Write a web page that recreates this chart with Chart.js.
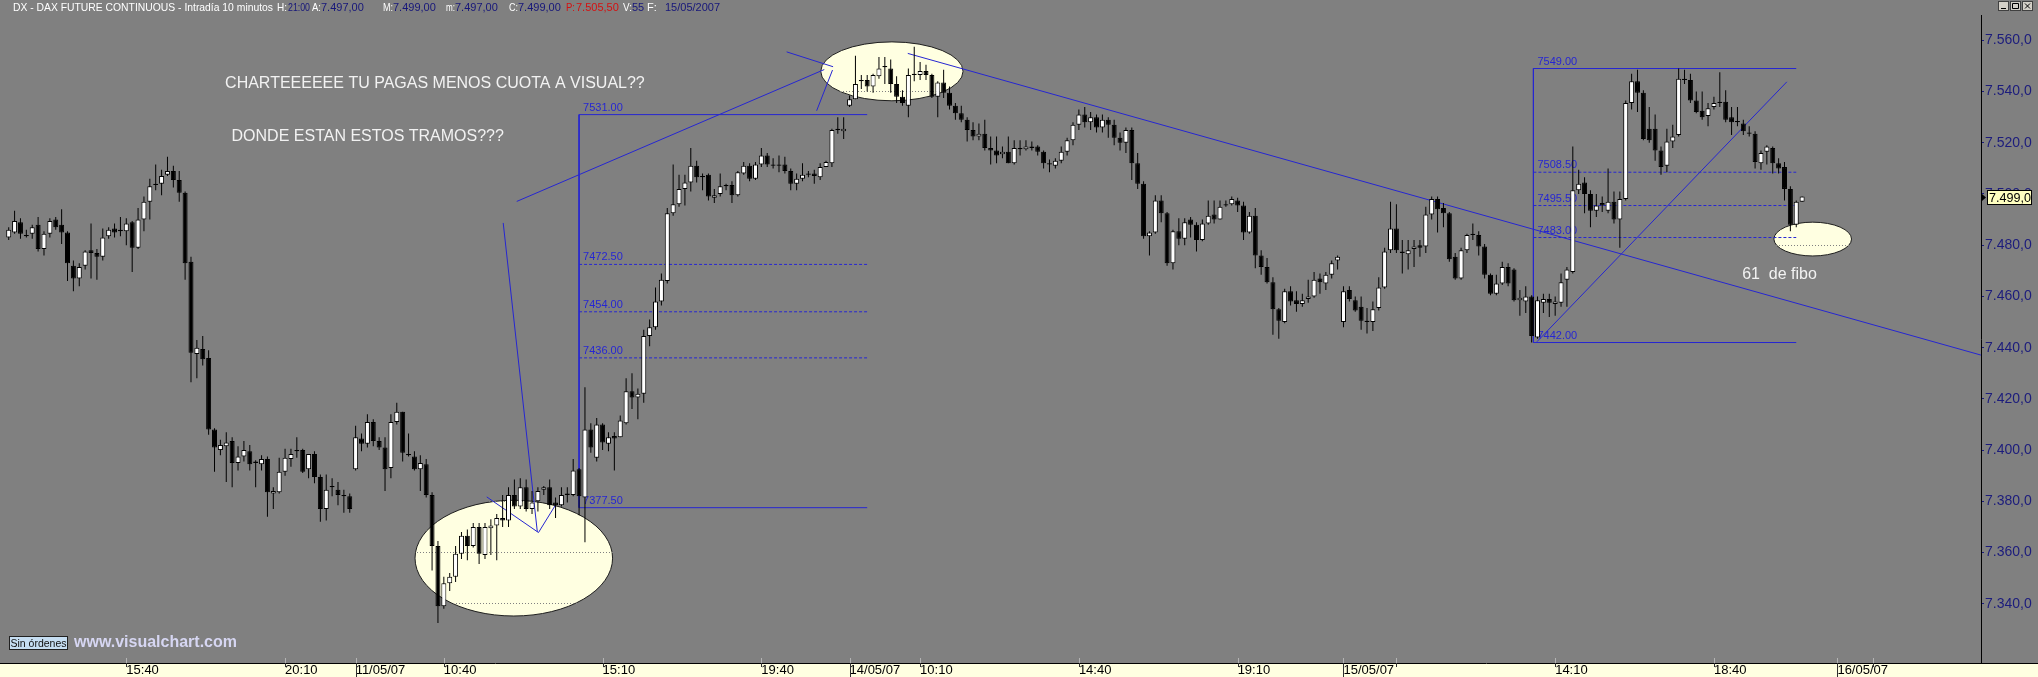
<!DOCTYPE html>
<html>
<head>
<meta charset="utf-8">
<script src="https://cdn.jsdelivr.net/npm/chart.js@4.4.0/dist/chart.umd.min.js"></script>
<style>
html,body{margin:0;padding:0;background:#808080;overflow:hidden;}
#wrap{position:relative;width:2038px;height:677px;}
</style>
</head>
<body>
<div id="wrap"><canvas id="mycanvas"></canvas></div>
<script>
// DAX future, 10 minute bars, 10/05/07 12:20 .. 15/05/07 21:10 (index = bar number)
var opens = [
7483,7485,7489,7484,7484.5,7488,7478.5,7484.5,7490,7488,
7485,7472,7467,7472,7478,7477,7475.5,7483.5,7486.5,7485.5,
7485.5,7489,7479,7490,7497,7504,7504,7507.5,7509,7505.5,
7500.5,7473.5,7437.5,7439.5,7436,7408,7400,7401.5,7403.5,7395,
7397.5,7399.5,7395.5,7394.5,7396.5,7383,7383.5,7391.5,7396.5,7400,
7400,7392.5,7398.5,7389.5,7377,7385.5,7384.5,7382.5,7382,7392.5,
7404.5,7402.5,7411,7403.5,7401,7393,7411,7415,7398.5,7397.5,
7392.5,7394.5,7382.5,7362.5,7339,7348,7350.5,7359.5,7366.5,7362.5,
7370,7359,7369.5,7370.5,7373.5,7372.5,7382.5,7378,7385.5,7377,
7380,7384.5,7385.5,7379.5,7378.5,7382.5,7382.5,7392.5,7381.5,7408,
7397,7410,7402.5,7405.5,7405,7410.5,7423,7420.5,7422,7444.5,
7448,7458,7466,7492.5,7496,7502,7504.5,7511,7506.5,7507.5,
7498.5,7500,7503.5,7503.5,7499.5,7508,7511,7506,7511.5,7515,
7511.5,7511.5,7511.5,7509,7504,7506,7507.5,7508,7506.5,7510.5,
7512,7525.5,7524.5,7534.5,7537,7544.5,7544.5,7542,7546,7549.5,
7549,7543,7538,7534.5,7546.5,7546.5,7548,7546.5,7538,7543.5,
7539.5,7534.5,7531.5,7529,7525,7522.5,7523.5,7518,7517,7515.5,
7516.5,7512,7518,7517.5,7518.5,7518.5,7516.5,7512,7511,7513,
7516.5,7521,7527,7531,7528,7530,7526,7529,7527,7522,
7520,7525,7512,7504,7483.5,7485,7497.5,7492.5,7473,7485.5,
7482.5,7490,7488,7482,7488.5,7492,7490,7495.5,7496,7497.5,
7495.5,7485,7491.5,7476,7471.5,7465.5,7455,7450,7462,7458.5,
7457,7459,7460,7467,7465,7468.5,7474,7450,7462.5,7458.5,
7456,7450.5,7450,7455.5,7463.5,7478,7486.5,7477.5,7476.5,7478.5,
7480,7479.5,7492,7498,7494.5,7492.5,7475.5,7467,7478,7484.5,
7484,7479.5,7468.5,7461,7465,7471.5,7470.5,7458.5,7458,7460,
7444,7457.5,7459,7457,7457.5,7466.5,7469.5,7501.5,7504.5,7500,
7493.5,7496.5,7493.5,7497,7490,7498,7535.5,7544,7539.5,7525.5,
7525.5,7517,7511,7520.5,7523,7545,7544.5,7536.5,7532.5,7530.5,
7534,7536,7536,7530,7528.5,7527.5,7524,7523.5,7512,7516.5,
7518,7512,7510.5,7502,7488,7497
];
var highs = [
7487,7493.5,7490.5,7486,7488,7491,7485.5,7490.5,7491,7494,
7485.5,7474,7473,7478,7488.5,7478.5,7486.5,7487,7488.5,7491,
7490.5,7489.5,7494.5,7499,7506,7511.5,7509.5,7514.5,7511,7509,
7501,7475.5,7443,7444.5,7439,7408.5,7404,7407,7405,7401.5,
7403.5,7402,7396,7398,7397.5,7385.5,7397,7400.5,7400.5,7405,
7400.5,7398.5,7399.5,7390.5,7390.5,7389,7387.5,7384.5,7383,7409.5,
7406.5,7414,7412,7405,7405,7414,7418.5,7415,7406.5,7399.5,
7398,7396.5,7383.5,7364.5,7350.5,7352,7362.5,7368,7369,7371.5,
7371.5,7371.5,7373,7375,7382.5,7385.5,7388.5,7389,7388.5,7384,
7385.5,7386,7388.5,7381.5,7385.5,7385.5,7396.5,7393,7424.5,7410.5,
7412.5,7410.5,7407,7407,7413.5,7428,7430,7424,7447,7451,
7463.5,7469,7494.5,7511.5,7507.5,7507.5,7518,7513,7508,7508,
7502,7508,7504,7505,7509,7512.5,7512,7512.5,7518,7516,
7514,7515,7514.5,7510,7508,7512,7509,7509.5,7512,7513,
7525.5,7530,7530,7538.5,7554,7546.5,7546.5,7547,7553.5,7553.5,
7552.5,7546,7540.5,7549,7557.5,7551.5,7550.5,7547,7544,7548.5,
7542,7535.5,7534.5,7530,7528,7527.5,7529,7522.5,7522.5,7518.5,
7522.5,7521,7521,7521,7520.5,7519,7517,7513.5,7514,7518.5,
7522,7528,7533,7534,7532,7531,7531,7530,7529,7524,
7526,7526,7516,7505,7485.5,7499.5,7499.5,7493,7486,7490.5,
7490.5,7491,7489,7490,7497.5,7497.5,7497.5,7497.5,7499,7498.5,
7497,7493,7494.5,7478,7475,7467.5,7455.5,7463,7464,7462,
7461,7466.5,7469.5,7469,7469.5,7474,7476,7464,7464,7460,
7460,7455.5,7458,7467.5,7479,7497,7496,7482,7482,7482,
7482,7495,7499,7499,7496.5,7493,7477,7479,7484.5,7488.5,
7485.5,7480.5,7469,7468.5,7473.5,7473,7471,7462.5,7464,7460.5,
7460,7461,7461,7460,7469,7471.5,7518.5,7509.5,7506.5,7501.5,
7500,7499,7510,7501,7501,7536.5,7547,7548.5,7540.5,7534,
7531,7518.5,7525.5,7527,7549,7548.5,7547,7540,7540,7535.5,
7538,7547.5,7540.5,7534,7534,7529,7526.5,7524.5,7517,7519,
7518.5,7514,7512.5,7503,7497.5,7499
];
var lows = [
7482,7484.5,7482.5,7483,7482.5,7477.5,7476,7483,7486,7480.5,
7466,7462,7464,7470.5,7467,7466.5,7474,7482.5,7483,7483.5,
7480,7469.5,7478.5,7485.5,7490,7501.5,7499.5,7507,7502.5,7497,
7466.5,7426.5,7428,7433,7406,7391.5,7398,7387.5,7385.5,7392,
7395.5,7392,7385.5,7392,7374,7377,7383,7390,7393.5,7397,
7391,7389,7387,7372,7372.5,7382,7378.5,7375.5,7375.5,7392,
7399.5,7401,7401.5,7400,7384,7389,7410,7395.5,7397.5,7392,
7384,7381.5,7353,7332.5,7338,7345,7348.5,7357.5,7357,7362,
7355.5,7357.5,7359,7357,7370,7370,7377,7377,7376,7375,
7376,7382.5,7377,7373.5,7378,7379.5,7382,7374.5,7364,7399,
7395.5,7400,7399.5,7392,7405,7410,7416,7412,7418.5,7440.5,
7447,7456.5,7465,7491.5,7495,7495.5,7501,7504.5,7501.5,7497.5,
7496.5,7499,7501.5,7496.5,7499,7507.5,7505,7505.5,7510.5,7510.5,
7510,7508.5,7508,7501.5,7501.5,7505,7506.5,7504,7505.5,7510.5,
7510.5,7523.5,7521.5,7534,7537,7541,7540,7539.5,7545,7543,
7539.5,7535.5,7534.5,7530,7544,7544.5,7544.5,7537.5,7530,7537.5,
7533,7529,7528,7520.5,7521,7521,7517,7511.5,7512,7514,
7512,7511.5,7515,7517,7517,7515,7510,7508.5,7510,7512,
7515,7519,7525,7526,7525,7524,7524,7522,7519,7517,
7516,7505.5,7502,7482.5,7476,7484.5,7489,7472,7470.5,7480,
7480,7483,7477.5,7481.5,7488,7488.5,7490,7495,7495.5,7493,
7482,7484.5,7471,7468.5,7465,7445,7443.5,7449.5,7456.5,7454,
7456,7457.5,7459.5,7461,7462.5,7467,7470.5,7448,7458,7454,
7447,7445.5,7446.5,7454.5,7463,7477,7477,7469,7470.5,7471.5,
7475.5,7477,7490,7485,7487,7473.5,7466.5,7466.5,7477,7482,
7476,7467,7460.5,7460.5,7464.5,7464,7458,7452.5,7453.5,7442,
7443.5,7453.5,7452,7452.5,7456,7456,7469,7500,7492.5,7487,
7491,7493,7492.5,7488.5,7479,7497.5,7533,7532,7521,7520,
7513,7507.5,7508.5,7518,7522.5,7543,7535.5,7531.5,7529,7526.5,
7533,7534,7528,7523,7526.5,7523,7522.5,7510,7509.5,7511.5,
7508,7508,7497.5,7485.5,7487,7497
];
var closes = [
7486,7489.5,7484.5,7483.5,7487,7478.5,7484.5,7489.5,7487,7485,
7473,7467,7471.5,7477.5,7477,7475.5,7483,7486,7485,7486,
7488.5,7479,7490,7497,7503,7503.5,7507,7509,7505.5,7500.5,
7473,7438,7440,7435.5,7408,7401,7402,7403,7395,7397.5,
7400,7394.5,7395,7396.5,7383.5,7384,7391.5,7397,7398.5,7399.5,
7391.5,7398.5,7389.5,7377,7384.5,7386,7382.5,7382,7377,7405,
7402.5,7411,7403.5,7401,7392.5,7411,7415,7399,7398,7392.5,
7395,7382.5,7362.5,7339,7348,7350.5,7359.5,7366.5,7362.5,7370,
7359.5,7370,7370.5,7373.5,7372.5,7382.5,7378,7385.5,7377,7379.5,
7384,7385.5,7378.5,7378.5,7382.5,7383,7392,7382,7408,7401,
7410,7403,7405,7404.5,7411.5,7423,7420.5,7422,7444.5,7448,
7458,7466.5,7492.5,7496,7502,7504.5,7511,7506.5,7507,7499,
7499.5,7503,7503,7499.5,7508.5,7511,7506,7511.5,7515,7511.5,
7511,7511,7509,7504,7506,7507.5,7508,7507,7510.5,7512.5,
7525,7525,7525.5,7537,7543,7544,7542,7546.5,7549,7550,
7543,7538,7535.5,7546.5,7547,7548,7546.5,7538,7543.5,7539.5,
7534.5,7531.5,7529,7525,7522.5,7523.5,7518,7517,7515,7516.5,
7512,7518,7517.5,7518.5,7518,7516.5,7512,7511.5,7513,7516.5,
7521,7527,7531,7528,7530,7526,7529,7527,7522,7520,
7525,7512,7504,7483.5,7485,7497.5,7492.5,7473,7485.5,7482.5,
7489,7488,7482,7488.5,7491.5,7490,7495,7496,7498,7495.5,
7485,7491.5,7476,7471.5,7465.5,7455,7450.5,7462,7458,7457,
7458.5,7460,7466.5,7465.5,7468.5,7473,7475.5,7462,7459,7454.5,
7450.5,7450,7455,7463.5,7477.5,7486.5,7478,7477,7478,7479.5,
7479,7492,7498,7494,7492.5,7474.5,7467,7478,7484,7484,
7479.5,7468.5,7461,7465,7471.5,7465,7458.5,7459.5,7460,7444.5,
7458.5,7459,7457.5,7458,7465.5,7470.5,7501.5,7504,7500,7493.5,
7495.5,7495.5,7497,7490,7498,7535.5,7544,7539.5,7521.5,7521,
7517,7510.5,7520.5,7522.5,7545,7544.5,7536.5,7532,7530,7533.5,
7535.5,7535.5,7529,7528,7528,7524.5,7523.5,7512.5,7516,7518.5,
7512,7510,7502,7488,7497,7499
];

// time axis: bar index of each tick and its text ('' = tick only)
var xTickIdx = [20, 47, 59, 74, 101, 128, 143, 155, 182, 209, 227, 236, 263, 290, 311, 317];
var xTickLbl = ['15:40','20:10','11/05/07','10:40','15:10','19:40','14/05/07','10:10','14:40','19:10','15/05/07','','14:10','18:40','16/05/07',''];
var dateTicks = [59, 143, 227, 311];
var yTicks = [7340, 7360, 7380, 7400, 7420, 7440, 7460, 7480, 7500, 7520, 7540, 7560];
var xMin = -1.48, xMax = 335.42, yMin = 7316.85, yMax = 7569.9;

// drawings on the chart: [bar, price, bar, price]
var trendLines = [
  [152.9, 7554.9, 335.4, 7437.1],
  [86.4, 7497.1, 138.7, 7548.6],
  [132.3, 7555.5, 140.2, 7549.7],
  [140.1, 7548.4, 137.4, 7532.5],
  [84.1, 7488.7, 89.9, 7368.1],
  [81.3, 7381.7, 90.1, 7367.8],
  [90.1, 7367.8, 92.9, 7378.2],
  [259.9, 7442.3, 302.4, 7543.8]
];
var fiboLeftSpan = [97, 146];
var fiboLeftLevels = [7531, 7472.5, 7454, 7436, 7377.5];
var fiboRightSpan = [259.3, 304];
var fiboRightLevels = [7549, 7508.5, 7495.5, 7483, 7442];
// ellipses: centre bar, centre price, radius in bars, radius in points
var ellipses = [[85.9, 7357.8, 16.8, 22.6], [150.2, 7547.9, 12.1, 11.5], [306.8, 7482.4, 6.6, 6.6]];
var notes = [
  ['CHARTEEEEEE TU PAGAS MENOS CUOTA A VISUAL??', 36.8, 7543.3],
  ['DONDE ESTAN ESTOS TRAMOS???', 37.9, 7522.4],
  ['61  de fibo', 294.8, 7468.7]
];
var header = [
  [13, 'DX - DAX FUTURE CONTINUOUS - Intradía 10 minutos', '#ffffff', 260],
  [277, 'H:', '#ffffff', 10], [288, '21:00', '#16167a', 22],
  [312, 'A:', '#ffffff', 9], [321, '7.497,00', '#16167a', 58],
  [383, 'M:', '#ffffff', 10], [393, '7.499,00', '#16167a', 50],
  [446, 'm:', '#ffffff', 9], [455, '7.497,00', '#16167a', 51],
  [509, 'C:', '#ffffff', 9], [518, '7.499,00', '#16167a', 46],
  [566, 'P:', '#d41010', 9], [576, '7.505,50', '#d41010', 45],
  [623, 'V:', '#ffffff', 9], [632, '55', '#16167a', 13],
  [647, 'F:', '#ffffff', 12], [665, '15/05/2007', '#16167a', 64]
];

if (opens.length !== 306 || highs.length !== 306 || lows.length !== 306 || closes.length !== 306) {
  throw new Error('lengths ' + opens.length + ' ' + highs.length + ' ' + lows.length + ' ' + closes.length);
}

var fam = "'Liberation Sans', Arial, sans-serif";
var narrow = "'Liberation Sans Narrow', 'Liberation Sans', Arial, sans-serif";
var lineBlue = '#2626d2';

function fmtY(v) {
  var s = Number(v).toFixed(1).split('.');
  return s[0].slice(0, 1) + '.' + s[0].slice(1) + ',' + s[1];
}

var wickData = [], bodyData = [], bodyFill = [];
for (var i = 0; i < closes.length; i++) {
  wickData.push({x: i, y: [lows[i], highs[i]]});
  var o = opens[i], c = closes[i];
  if (Math.abs(o - c) < 0.5) {
    var m = (o + c) / 2;
    bodyData.push({x: i, y: [m - 0.25, m + 0.25]});
  } else {
    bodyData.push({x: i, y: [o, c]});
  }
  bodyFill.push(c > o ? '#ffffff' : '#000000');
}

function seg(t, dash, w) {
  return {
    type: 'line',
    data: [{x: t[0], y: t[1]}, {x: t[2], y: t[3]}],
    borderColor: lineBlue, borderWidth: w || 1, borderDash: dash,
    pointRadius: 0, fill: false, tension: 0, order: 2
  };
}

var datasets = [];
datasets.push({
  type: 'bar', label: 'bodies', data: bodyData,
  backgroundColor: bodyFill, borderColor: '#000000', borderWidth: 1, borderSkipped: false,
  barThickness: 5, grouped: false, inflateAmount: 0, order: 0
});
datasets.push({
  type: 'bar', label: 'wicks', data: wickData,
  backgroundColor: '#000000', borderWidth: 0,
  barThickness: 1, grouped: false, inflateAmount: 0, order: 1
});
trendLines.forEach(function(t) { datasets.push(seg(t, [])); });
[[fiboLeftSpan, fiboLeftLevels], [fiboRightSpan, fiboRightLevels]].forEach(function(f) {
  var sp = f[0], lv = f[1];
  lv.forEach(function(v, k) {
    var solid = (k === 0 || k === lv.length - 1);
    datasets.push(seg([sp[0], v, sp[1], v], solid ? [] : [3, 2]));
  });
  datasets.push(seg([sp[0], lv[0], sp[0], lv[lv.length - 1]], []));
});

var decor = {
  id: 'decor',
  beforeDraw: function(chart) {
    var ctx = chart.ctx, xs = chart.scales.x, ys = chart.scales.y, a = chart.chartArea;
    ctx.save();
    ctx.fillStyle = '#808080';
    ctx.fillRect(0, 0, chart.width, chart.height);
    ctx.fillStyle = '#ffffe1';
    ctx.fillRect(0, a.bottom, chart.width, chart.height - a.bottom);
    ellipses.forEach(function(e) {
      var cx = xs.getPixelForValue(e[0]), cy = ys.getPixelForValue(e[1]);
      var rx = xs.getPixelForValue(e[0] + e[2]) - cx;
      var ry = cy - ys.getPixelForValue(e[1] + e[3]);
      ctx.beginPath();
      ctx.ellipse(cx, cy, rx, ry, 0, 0, Math.PI * 2);
      ctx.fillStyle = '#ffffe1';
      ctx.fill();
      ctx.strokeStyle = '#1e1e1e';
      ctx.lineWidth = 1;
      ctx.stroke();
    });
    // title bar
    ctx.font = '11px ' + narrow;
    ctx.textBaseline = 'middle';
    ctx.textAlign = 'left';
    header.forEach(function(h) {
      ctx.fillStyle = h[2];
      ctx.fillText(h[1], h[0], 8, h[3]);
    });
    ctx.restore();
  },
  beforeDatasetsDraw: function(chart) {
    var ctx = chart.ctx, xs = chart.scales.x, ys = chart.scales.y;
    ctx.save();
    ctx.font = '11px ' + fam;
    ctx.fillStyle = lineBlue;
    ctx.textAlign = 'left';
    ctx.textBaseline = 'alphabetic';
    [[fiboLeftSpan, fiboLeftLevels], [fiboRightSpan, fiboRightLevels]].forEach(function(f) {
      var px = xs.getPixelForValue(f[0][0]) + 4;
      f[1].forEach(function(v) {
        ctx.fillText(v.toFixed(2), px, ys.getPixelForValue(v) - 4);
      });
    });
    ctx.font = '16px ' + fam;
    ctx.fillStyle = '#f2f2f2';
    ctx.textBaseline = 'middle';
    notes.forEach(function(n) {
      ctx.fillText(n[0], xs.getPixelForValue(n[1]), ys.getPixelForValue(n[2]));
    });
    ctx.restore();
  },
  afterDraw: function(chart) {
    var ctx = chart.ctx, xs = chart.scales.x, ys = chart.scales.y, a = chart.chartArea;
    ctx.save();
    // axis line under the price scale too
    ctx.strokeStyle = '#000000';
    ctx.lineWidth = 1;
    ctx.beginPath();
    ctx.moveTo(a.right, a.bottom + 0.5);
    ctx.lineTo(chart.width, a.bottom + 0.5);
    ctx.stroke();
    // time ticks
    xTickIdx.forEach(function(v) {
      var px = Math.round(xs.getPixelForValue(v)) + 0.5;
      var isDate = dateTicks.indexOf(v) >= 0;
      ctx.strokeStyle = '#b4b4b4';
      ctx.beginPath();
      ctx.moveTo(px, a.bottom - 5);
      ctx.lineTo(px, a.bottom);
      ctx.stroke();
      ctx.strokeStyle = '#303030';
      ctx.beginPath();
      ctx.moveTo(px, a.bottom);
      ctx.lineTo(px, isDate ? chart.height : a.bottom + 4);
      ctx.stroke();
    });
    // last price box
    var last = closes[closes.length - 1];
    var py = Math.round(ys.getPixelForValue(last));
    ctx.fillStyle = '#ffffc0';
    ctx.fillRect(a.right + 6, py - 7, 45, 15);
    ctx.strokeStyle = '#000000';
    ctx.strokeRect(a.right + 6.5, py - 6.5, 44, 14);
    ctx.fillStyle = '#000000';
    ctx.beginPath();
    ctx.moveTo(a.right + 1, py - 3);
    ctx.lineTo(a.right + 5, py + 0.5);
    ctx.lineTo(a.right + 1, py + 4);
    ctx.closePath();
    ctx.fill();
    ctx.font = '13px ' + fam;
    ctx.textBaseline = 'middle';
    ctx.textAlign = 'left';
    ctx.fillText(fmtY(last), a.right + 8, py + 1, 42);
    // orders box and site name
    ctx.fillStyle = '#c6def2';
    ctx.fillRect(9, 636, 59, 14);
    ctx.strokeStyle = '#202020';
    ctx.strokeRect(9.5, 636.5, 58, 13);
    ctx.fillStyle = '#101010';
    ctx.font = '11px ' + narrow;
    ctx.textAlign = 'center';
    ctx.fillText('Sin órdenes', 38.5, 643.5, 56);
    ctx.textAlign = 'left';
    ctx.font = 'bold 16px ' + fam;
    ctx.fillStyle = '#d6d6f2';
    ctx.fillText('www.visualchart.com', 74, 643);
    // window buttons
    ['_', 'o', 'x'].forEach(function(g, k) {
      var bx = 1998 + k * 12;
      ctx.fillStyle = '#d4d0c8';
      ctx.fillRect(bx, 1, 11, 10);
      ctx.strokeStyle = '#404040';
      ctx.strokeRect(bx + 0.5, 1.5, 10, 9);
      ctx.strokeStyle = '#000000';
      ctx.beginPath();
      if (g === '_') { ctx.moveTo(bx + 3, 8.5); ctx.lineTo(bx + 8, 8.5); }
      else if (g === 'o') { ctx.rect(bx + 2.5, 3.5, 6, 5); }
      else { ctx.moveTo(bx + 3, 3.5); ctx.lineTo(bx + 8, 8.5); ctx.moveTo(bx + 8, 3.5); ctx.lineTo(bx + 3, 8.5); }
      ctx.stroke();
    });
    ctx.restore();
  }
};

var ctx = document.getElementById('mycanvas');
var chart = new Chart(ctx, {
  type: 'bar',
  data: { datasets: datasets },
  plugins: [decor],
  options: {
    responsive: true,
    maintainAspectRatio: false,
    devicePixelRatio: 1,
    animation: false,
    events: [],
    layout: { padding: { top: 15, left: 0, right: 0, bottom: 0 } },
    plugins: { legend: { display: false }, tooltip: { enabled: false } },
    scales: {
      x: {
        type: 'linear', min: xMin, max: xMax, offset: false,
        afterBuildTicks: function(s) { s.ticks = xTickIdx.map(function(v) { return {value: v}; }); },
        afterFit: function(s) { s.height = 14; },
        grid: { display: true, drawOnChartArea: false, drawTicks: false, offset: false },
        border: { display: true, color: '#000000', width: 1 },
        ticks: {
          autoSkip: false, maxRotation: 0, minRotation: 0, align: 'start', padding: 0,
          color: '#000000', font: { family: fam, size: 13 },
          callback: function(v) { var k = xTickIdx.indexOf(v); return k >= 0 ? xTickLbl[k] : ''; }
        }
      },
      y: {
        type: 'linear', position: 'right', min: yMin, max: yMax,
        afterBuildTicks: function(s) { s.ticks = yTicks.map(function(v) { return {value: v}; }); },
        afterFit: function(s) { s.width = 57; },
        grid: { color: '#808080', lineWidth: 1, drawTicks: true, tickLength: 3, tickColor: '#1c1c7c', tickWidth: 1 },
        border: { display: true, color: '#000000', width: 1, dash: [1, 2] },
        ticks: {
          color: '#1c1c7c', padding: 1, font: { family: fam, size: 14 },
          callback: function(v) { return fmtY(v); }
        }
      }
    }
  }
});
</script>
</body>
</html>
